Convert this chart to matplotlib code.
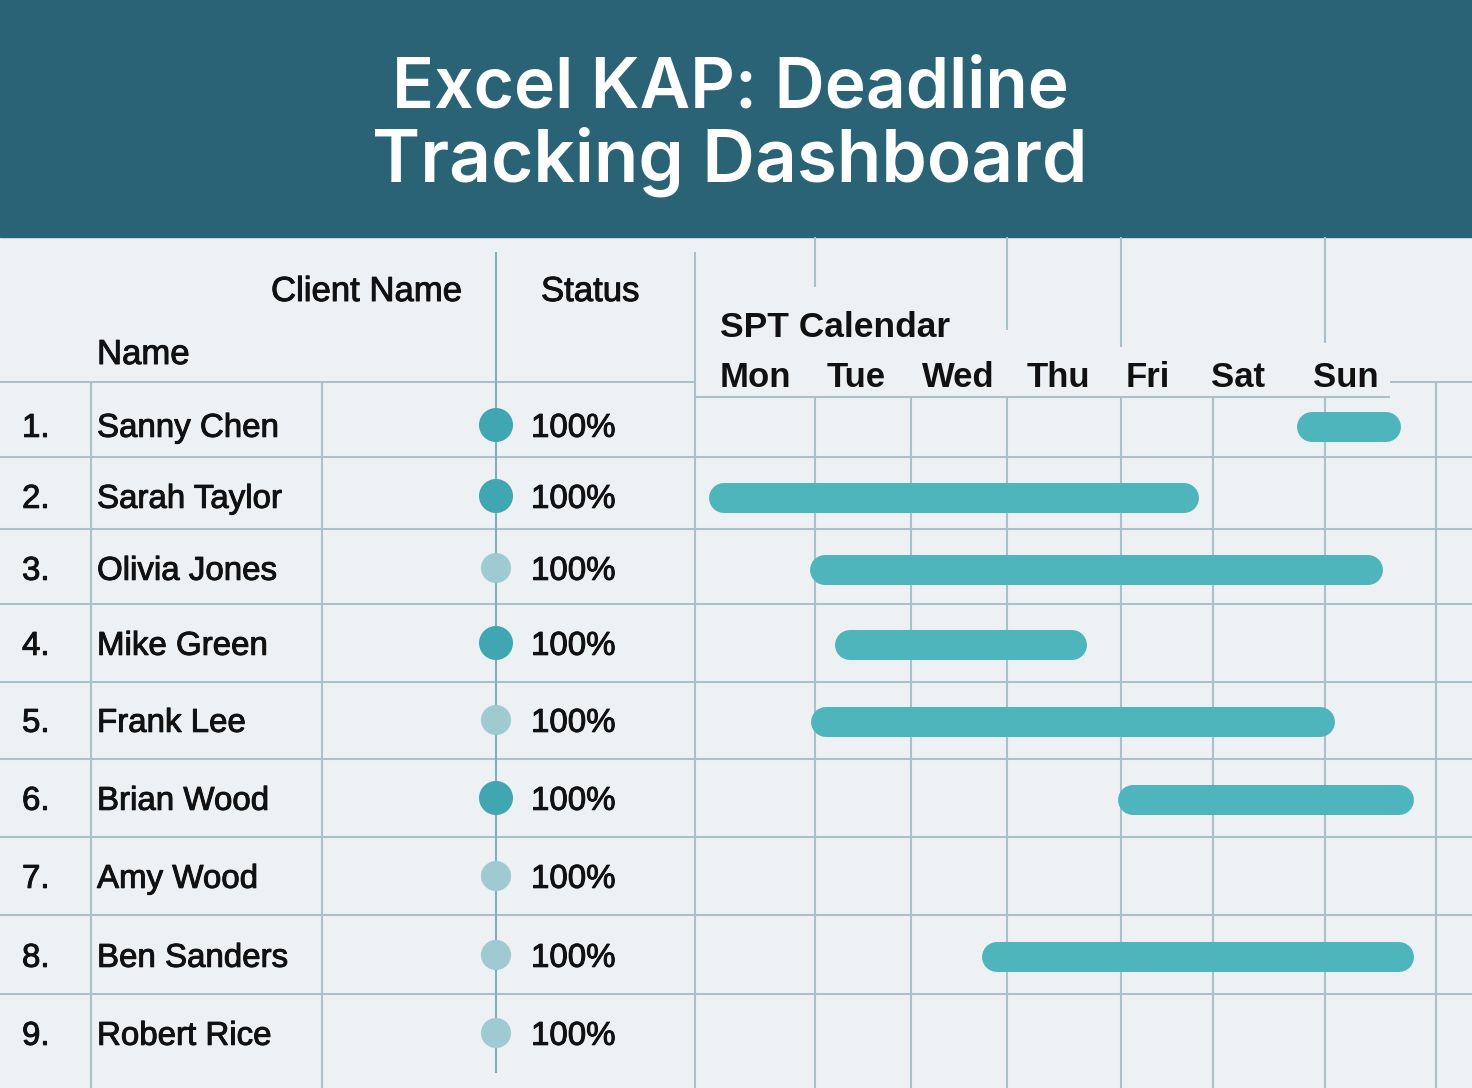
import matplotlib.pyplot as plt
import matplotlib.patheffects as pe
import numpy as np

# data
row_no = ["1.", "2.", "3.", "4.", "5.", "6.", "7.", "8.", "9."]
names = ["Sanny Chen", "Sarah Taylor", "Olivia Jones", "Mike Green", "Frank Lee",
         "Brian Wood", "Amy Wood", "Ben Sanders", "Robert Rice"]
status = ["100%"] * 9
dot_state = ["dark", "dark", "light", "dark", "light", "dark", "light", "light", "light"]
days = ["Mon", "Tue", "Wed", "Thu", "Fri", "Sat", "Sun"]
# bar extents in days (0 = start of Mon, 7 = end of Sun), None = no bar
bar_start = [5.69, 0.13, 1.09, 1.32, 1.10, 4.00, None, 2.71, None]
bar_end = [6.67, 4.76, 6.50, 3.70, 6.05, 6.79, None, 6.79, None]

# layout (pixels)
W, H = 1472, 1088
ROW_Y = [425, 496, 568, 643, 720, 798, 876, 955, 1033]
ROW_LINES = [457, 529, 604, 682, 759, 837, 915, 994]
CAL_X0, CAL_X1 = 695, 1436
DAY_PX = (CAL_X1 - CAL_X0) / 7
DAY_LABEL_X = [720, 827, 922, 1027, 1126, 1211, 1313]

HEAD = "#2a6375"
BG = "#eef1f4"
GRID = "#a9c2ca"
DARK_DOT = "#3fa6b2"
LIGHT_DOT = "#9fcad1"
BAR = "#4fb5bc"
INK = "#111111"

FONT = "Liberation Sans"
FS = 23.8
CAP = 0.716 * FS / 0.72  # cap height in px
thick = [pe.withStroke(linewidth=0.7, foreground=INK)]

fig = plt.figure(figsize=(W / 100, H / 100), dpi=100, facecolor=BG)
ax = fig.add_axes([0, 0, 1, 1])
ax.set_xlim(0, W)
ax.set_ylim(H, 0)
ax.axis("off")

# header band
ax.add_patch(plt.Rectangle((0, 0), W, 237, color=HEAD, zorder=1))
ax.text(730, 108, "Excel KAP: Deadline", color="white", fontsize=50, fontweight="semibold",
        family="Inter", ha="center", va="baseline", zorder=3)
ax.text(730, 182, "Tracking Dashboard", color="white", fontsize=52.5, fontweight="semibold",
        family="Inter", ha="center", va="baseline", zorder=3)

lw = 1.5
# horizontal grid
ax.hlines(382, 0, CAL_X0, color=GRID, lw=lw)
ax.hlines(382, 1390, W, color=GRID, lw=lw)
ax.hlines(397, CAL_X0, 1390, color=GRID, lw=lw)
ax.hlines(ROW_LINES, 0, W, color=GRID, lw=lw)
# vertical grid, table side
ax.vlines([91, 322], 382, H, color=GRID, lw=lw)
ax.vlines(CAL_X0, 252, H, color=GRID, lw=lw)
ax.vlines(496, 252, 1073, color="#7fafb9", lw=lw, zorder=2)
# vertical grid, calendar side
ax.vlines([815, 911, 1007, 1121, 1213, 1325], 397, H, color=GRID, lw=lw)
ax.vlines(1436, 382, H, color=GRID, lw=lw)
ax.vlines(815, 237, 287, color=GRID, lw=lw)
ax.vlines(1007, 237, 330, color=GRID, lw=lw)
ax.vlines(1121, 237, 347, color=GRID, lw=lw)
ax.vlines(1325, 237, 343, color=GRID, lw=lw)

body = dict(family=FONT, color=INK, va="baseline")
ax.text(271, 301, "Client Name", fontsize=25, path_effects=thick, **body)
ax.text(541, 301, "Status", fontsize=25, path_effects=thick, **body)
ax.text(97, 364, "Name", fontsize=25, path_effects=thick, **body)
ax.text(720, 337, "SPT Calendar", fontsize=25.5, fontweight="bold", **body)
for x, d in zip(DAY_LABEL_X, days):
    ax.text(x, 387, d, fontsize=25, fontweight="bold", **body)

for y, n, nm, st in zip(ROW_Y, row_no, names, status):
    ax.text(22, y + CAP / 2, n, fontsize=FS, path_effects=thick, **body)
    ax.text(97, y + CAP / 2, nm, fontsize=FS, path_effects=thick, **body)
    ax.text(531, y + CAP / 2, st, fontsize=FS, path_effects=thick, **body)

dot_col = [DARK_DOT if s == "dark" else LIGHT_DOT for s in dot_state]
dot_size = [600 if s == "dark" else 470 for s in dot_state]
ax.scatter([496] * len(ROW_Y), ROW_Y, s=dot_size, c=dot_col, lw=0, zorder=4)

# calendar bars, x in days
cal = fig.add_axes([CAL_X0 / W, 0, (CAL_X1 - CAL_X0) / W, 1])
cal.set_xlim(0, 7)
cal.set_ylim(H, 0)
cal.axis("off")
cal.patch.set_alpha(0)
r = 15 / DAY_PX
for y, s, e in zip(ROW_Y, bar_start, bar_end):
    if s is None:
        continue
    cal.plot([s + r, e - r], [y + 2, y + 2], color=BAR, lw=21.6, solid_capstyle="round", zorder=3)

fig.savefig("out.png", dpi=100, facecolor=BG)
